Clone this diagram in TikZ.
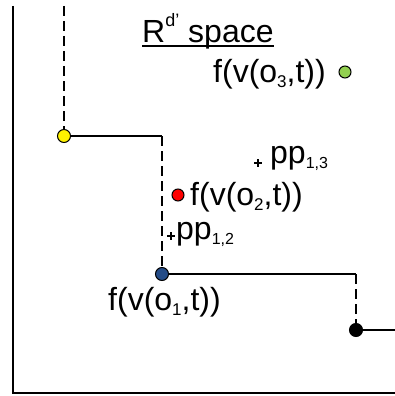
\documentclass[tikz,border=0pt]{standalone}
\usepackage{fontspec}
\setmainfont{Liberation Sans}
\definecolor{dotblue}{RGB}{36,76,135}
\definecolor{dotgreen}{RGB}{146,208,80}
\newcommand\lowsub[1]{\raisebox{-5pt}{\fontsize{17}{17}\selectfont #1}}
\newcommand\ppsub[1]{\raisebox{-5pt}{\fontsize{16}{16}\selectfont #1}}
\begin{document}
\begin{tikzpicture}[x=1pt,y=-1pt,
  lbl/.style={font=\fontsize{32}{38}\selectfont, inner sep=0pt, anchor=base west},
  dot/.style={circle, draw=black, line width=1pt, inner sep=0pt, minimum size=13pt},
  stair/.style={line width=1.3pt},
  dsh/.style={line width=1.3pt, dash pattern=on 10pt off 5pt},
  axis/.style={line width=2pt},
  plusst/.style={line width=2pt}]
\useasboundingbox (0,0) rectangle (395,396);
% axes
\coordinate (ytop) at (13,6);
\coordinate (xend) at (395,393);
\draw[axis] (ytop) |- (xend);
% points
\node[dot, fill=yellow] (py) at (64,136) {};
\node[dot, fill=dotblue] (o1) at (162,274) {};
\node[dot, fill=black] (pb) at (356,330) {};
\node[dot, fill=red, minimum size=12pt] (o2) at (178,195) {};
\node[dot, fill=dotgreen, minimum size=12pt] (o3) at (345,72) {};
\coordinate (top) at (64,6);
\coordinate (c1) at (162,136);
\coordinate (c2) at (356,274);
\coordinate (rend) at (395,330);
% staircase
\draw[dsh] (top) -- (py.north);
\draw[stair] (py.east) -- (c1);
\draw[dsh] (c1) -- (o1.north);
\draw[stair] (o1.east) -- (c2);
\draw[dsh] (c2) -- (pb.north);
\draw[stair] (pb.east) -- (rend);
% plus markers
\coordinate (pp13) at (258,163);
\coordinate (pp12) at (171,236);
\draw[plusst] (pp13) +(-4,0) -- +(4,0) (pp13) +(0,-4) -- +(0,4);
\draw[plusst] (pp12) +(-4,0) -- +(4,0) (pp12) +(0,-4) -- +(0,4);
% labels
\node[lbl] (title) at (142,43) {R\raisebox{16pt}{\fontsize{18}{18}\selectfont d'} space};
\draw[line width=1.6pt] ([yshift=-3pt]title.base west) -- ([yshift=-3pt]title.base east);
\node[lbl] (l3) at (213,82) {f(v(o\lowsub{3},t))};
\node[lbl] (l2) at (190,205) {f(v(o\lowsub{2},t))};
\node[lbl] (l1) at (108,310) {f(v(o\lowsub{1},t))};
\node[lbl] (t13) at (270,163) {pp\ppsub{1,3}};
\node[lbl] (t12) at (176,239) {pp\ppsub{1,2}};
\end{tikzpicture}
\end{document}
